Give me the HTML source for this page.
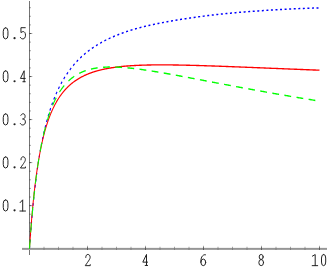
<!DOCTYPE html>
<html><head><meta charset="utf-8"><title>plot</title>
<style>
html,body{margin:0;padding:0;background:#fff;}
body{width:328px;height:273px;overflow:hidden;}
svg{display:block}
</style></head><body>
<svg width="328" height="273" viewBox="0 0 328 273">
<rect width="328" height="273" fill="#fff"/>
<rect x="29" y="1" width="1" height="254" fill="#747474"/>
<rect x="22" y="248" width="305" height="1" fill="#969696"/>
<rect x="22" y="249" width="305" height="1" fill="#a4a4a4"/>
<rect x="22" y="247" width="305" height="1" fill="#f2f2f2"/>
<rect x="29" y="239.54" width="1" height="1" fill="#5a5a5a"/>
<rect x="30" y="239.54" width="1" height="1" fill="#a8a8a8"/>
<rect x="29" y="230.94" width="1" height="1" fill="#5a5a5a"/>
<rect x="30" y="230.94" width="1" height="1" fill="#a8a8a8"/>
<rect x="29" y="222.33" width="1" height="1" fill="#5a5a5a"/>
<rect x="30" y="222.33" width="1" height="1" fill="#a8a8a8"/>
<rect x="29" y="213.73" width="1" height="1" fill="#5a5a5a"/>
<rect x="30" y="213.73" width="1" height="1" fill="#a8a8a8"/>
<rect x="29" y="205.12" width="1" height="1" fill="#4a4a4a"/>
<rect x="30" y="205.12" width="1" height="1" fill="#555"/>
<rect x="31" y="205.12" width="1" height="1" fill="#9a9a9a"/>
<rect x="32" y="205.12" width="1" height="1" fill="#e4e4e4"/>
<rect x="29" y="196.51" width="1" height="1" fill="#5a5a5a"/>
<rect x="30" y="196.51" width="1" height="1" fill="#a8a8a8"/>
<rect x="29" y="187.91" width="1" height="1" fill="#5a5a5a"/>
<rect x="30" y="187.91" width="1" height="1" fill="#a8a8a8"/>
<rect x="29" y="179.30" width="1" height="1" fill="#5a5a5a"/>
<rect x="30" y="179.30" width="1" height="1" fill="#a8a8a8"/>
<rect x="29" y="170.70" width="1" height="1" fill="#5a5a5a"/>
<rect x="30" y="170.70" width="1" height="1" fill="#a8a8a8"/>
<rect x="29" y="162.09" width="1" height="1" fill="#4a4a4a"/>
<rect x="30" y="162.09" width="1" height="1" fill="#555"/>
<rect x="31" y="162.09" width="1" height="1" fill="#9a9a9a"/>
<rect x="32" y="162.09" width="1" height="1" fill="#e4e4e4"/>
<rect x="29" y="153.48" width="1" height="1" fill="#5a5a5a"/>
<rect x="30" y="153.48" width="1" height="1" fill="#a8a8a8"/>
<rect x="29" y="144.88" width="1" height="1" fill="#5a5a5a"/>
<rect x="30" y="144.88" width="1" height="1" fill="#a8a8a8"/>
<rect x="29" y="136.27" width="1" height="1" fill="#5a5a5a"/>
<rect x="30" y="136.27" width="1" height="1" fill="#a8a8a8"/>
<rect x="29" y="127.67" width="1" height="1" fill="#5a5a5a"/>
<rect x="30" y="127.67" width="1" height="1" fill="#a8a8a8"/>
<rect x="29" y="119.06" width="1" height="1" fill="#4a4a4a"/>
<rect x="30" y="119.06" width="1" height="1" fill="#555"/>
<rect x="31" y="119.06" width="1" height="1" fill="#9a9a9a"/>
<rect x="32" y="119.06" width="1" height="1" fill="#e4e4e4"/>
<rect x="29" y="110.45" width="1" height="1" fill="#5a5a5a"/>
<rect x="30" y="110.45" width="1" height="1" fill="#a8a8a8"/>
<rect x="29" y="101.85" width="1" height="1" fill="#5a5a5a"/>
<rect x="30" y="101.85" width="1" height="1" fill="#a8a8a8"/>
<rect x="29" y="93.24" width="1" height="1" fill="#5a5a5a"/>
<rect x="30" y="93.24" width="1" height="1" fill="#a8a8a8"/>
<rect x="29" y="84.64" width="1" height="1" fill="#5a5a5a"/>
<rect x="30" y="84.64" width="1" height="1" fill="#a8a8a8"/>
<rect x="29" y="76.03" width="1" height="1" fill="#4a4a4a"/>
<rect x="30" y="76.03" width="1" height="1" fill="#555"/>
<rect x="31" y="76.03" width="1" height="1" fill="#9a9a9a"/>
<rect x="32" y="76.03" width="1" height="1" fill="#e4e4e4"/>
<rect x="29" y="67.42" width="1" height="1" fill="#5a5a5a"/>
<rect x="30" y="67.42" width="1" height="1" fill="#a8a8a8"/>
<rect x="29" y="58.82" width="1" height="1" fill="#5a5a5a"/>
<rect x="30" y="58.82" width="1" height="1" fill="#a8a8a8"/>
<rect x="29" y="50.21" width="1" height="1" fill="#5a5a5a"/>
<rect x="30" y="50.21" width="1" height="1" fill="#a8a8a8"/>
<rect x="29" y="41.61" width="1" height="1" fill="#5a5a5a"/>
<rect x="30" y="41.61" width="1" height="1" fill="#a8a8a8"/>
<rect x="29" y="33.00" width="1" height="1" fill="#4a4a4a"/>
<rect x="30" y="33.00" width="1" height="1" fill="#555"/>
<rect x="31" y="33.00" width="1" height="1" fill="#9a9a9a"/>
<rect x="32" y="33.00" width="1" height="1" fill="#e4e4e4"/>
<rect x="29" y="24.39" width="1" height="1" fill="#5a5a5a"/>
<rect x="30" y="24.39" width="1" height="1" fill="#a8a8a8"/>
<rect x="29" y="15.79" width="1" height="1" fill="#5a5a5a"/>
<rect x="30" y="15.79" width="1" height="1" fill="#a8a8a8"/>
<rect x="29" y="7.18" width="1" height="1" fill="#5a5a5a"/>
<rect x="30" y="7.18" width="1" height="1" fill="#a8a8a8"/>
<rect x="43.50" y="248" width="1" height="2" fill="#808080"/>
<rect x="43.50" y="247" width="1" height="1" fill="#a0a0a0"/>
<rect x="43.50" y="246" width="1" height="1" fill="#e8e8e8"/>
<rect x="58.00" y="248" width="1" height="2" fill="#808080"/>
<rect x="58.00" y="247" width="1" height="1" fill="#a0a0a0"/>
<rect x="58.00" y="246" width="1" height="1" fill="#e8e8e8"/>
<rect x="72.50" y="248" width="1" height="2" fill="#808080"/>
<rect x="72.50" y="247" width="1" height="1" fill="#a0a0a0"/>
<rect x="72.50" y="246" width="1" height="1" fill="#e8e8e8"/>
<rect x="87.00" y="248" width="1" height="2" fill="#5c5c5c"/>
<rect x="87.00" y="247" width="1" height="1" fill="#6e6e6e"/>
<rect x="87.00" y="246" width="1" height="1" fill="#a6a6a6"/>
<rect x="87.00" y="245" width="1" height="1" fill="#ececec"/>
<rect x="101.50" y="248" width="1" height="2" fill="#808080"/>
<rect x="101.50" y="247" width="1" height="1" fill="#a0a0a0"/>
<rect x="101.50" y="246" width="1" height="1" fill="#e8e8e8"/>
<rect x="116.00" y="248" width="1" height="2" fill="#808080"/>
<rect x="116.00" y="247" width="1" height="1" fill="#a0a0a0"/>
<rect x="116.00" y="246" width="1" height="1" fill="#e8e8e8"/>
<rect x="130.50" y="248" width="1" height="2" fill="#808080"/>
<rect x="130.50" y="247" width="1" height="1" fill="#a0a0a0"/>
<rect x="130.50" y="246" width="1" height="1" fill="#e8e8e8"/>
<rect x="145.00" y="248" width="1" height="2" fill="#5c5c5c"/>
<rect x="145.00" y="247" width="1" height="1" fill="#6e6e6e"/>
<rect x="145.00" y="246" width="1" height="1" fill="#a6a6a6"/>
<rect x="145.00" y="245" width="1" height="1" fill="#ececec"/>
<rect x="159.50" y="248" width="1" height="2" fill="#808080"/>
<rect x="159.50" y="247" width="1" height="1" fill="#a0a0a0"/>
<rect x="159.50" y="246" width="1" height="1" fill="#e8e8e8"/>
<rect x="174.00" y="248" width="1" height="2" fill="#808080"/>
<rect x="174.00" y="247" width="1" height="1" fill="#a0a0a0"/>
<rect x="174.00" y="246" width="1" height="1" fill="#e8e8e8"/>
<rect x="188.50" y="248" width="1" height="2" fill="#808080"/>
<rect x="188.50" y="247" width="1" height="1" fill="#a0a0a0"/>
<rect x="188.50" y="246" width="1" height="1" fill="#e8e8e8"/>
<rect x="203.00" y="248" width="1" height="2" fill="#5c5c5c"/>
<rect x="203.00" y="247" width="1" height="1" fill="#6e6e6e"/>
<rect x="203.00" y="246" width="1" height="1" fill="#a6a6a6"/>
<rect x="203.00" y="245" width="1" height="1" fill="#ececec"/>
<rect x="217.50" y="248" width="1" height="2" fill="#808080"/>
<rect x="217.50" y="247" width="1" height="1" fill="#a0a0a0"/>
<rect x="217.50" y="246" width="1" height="1" fill="#e8e8e8"/>
<rect x="232.00" y="248" width="1" height="2" fill="#808080"/>
<rect x="232.00" y="247" width="1" height="1" fill="#a0a0a0"/>
<rect x="232.00" y="246" width="1" height="1" fill="#e8e8e8"/>
<rect x="246.50" y="248" width="1" height="2" fill="#808080"/>
<rect x="246.50" y="247" width="1" height="1" fill="#a0a0a0"/>
<rect x="246.50" y="246" width="1" height="1" fill="#e8e8e8"/>
<rect x="261.00" y="248" width="1" height="2" fill="#5c5c5c"/>
<rect x="261.00" y="247" width="1" height="1" fill="#6e6e6e"/>
<rect x="261.00" y="246" width="1" height="1" fill="#a6a6a6"/>
<rect x="261.00" y="245" width="1" height="1" fill="#ececec"/>
<rect x="275.50" y="248" width="1" height="2" fill="#808080"/>
<rect x="275.50" y="247" width="1" height="1" fill="#a0a0a0"/>
<rect x="275.50" y="246" width="1" height="1" fill="#e8e8e8"/>
<rect x="290.00" y="248" width="1" height="2" fill="#808080"/>
<rect x="290.00" y="247" width="1" height="1" fill="#a0a0a0"/>
<rect x="290.00" y="246" width="1" height="1" fill="#e8e8e8"/>
<rect x="304.50" y="248" width="1" height="2" fill="#808080"/>
<rect x="304.50" y="247" width="1" height="1" fill="#a0a0a0"/>
<rect x="304.50" y="246" width="1" height="1" fill="#e8e8e8"/>
<rect x="319.00" y="248" width="1" height="2" fill="#5c5c5c"/>
<rect x="319.00" y="247" width="1" height="1" fill="#6e6e6e"/>
<rect x="319.00" y="246" width="1" height="1" fill="#a6a6a6"/>
<rect x="319.00" y="245" width="1" height="1" fill="#ececec"/>
<g transform="scale(1,1.345)" fill="none" stroke-linejoin="round">
<path d="M29.50,184.87 L29.50,184.87 L29.50,184.86 L29.50,184.84 L29.50,184.82 L29.51,184.79 L29.51,184.74 L29.52,184.69 L29.52,184.63 L29.53,184.56 L29.54,184.48 L29.54,184.39 L29.55,184.29 L29.56,184.18 L29.57,184.06 L29.59,183.93 L29.60,183.78 L29.61,183.63 L29.63,183.47 L29.65,183.29 L29.66,183.10 L29.68,182.91 L29.70,182.70 L29.72,182.48 L29.74,182.24 L29.77,182.00 L29.79,181.75 L29.82,181.48 L29.84,181.20 L29.87,180.92 L29.90,180.62 L29.93,180.31 L29.96,179.98 L29.99,179.65 L30.02,179.31 L30.06,178.95 L30.09,178.59 L30.13,178.21 L30.17,177.82 L30.21,177.42 L30.25,177.01 L30.29,176.59 L30.33,176.17 L30.38,175.72 L30.42,175.27 L30.47,174.81 L30.52,174.34 L30.57,173.86 L30.62,173.37 L30.67,172.87 L30.73,172.36 L30.78,171.84 L30.84,171.32 L30.89,170.78 L30.95,170.23 L31.01,169.68 L31.07,169.11 L31.13,168.54 L31.20,167.96 L31.26,167.37 L31.33,166.78 L31.40,166.17 L31.47,165.56 L31.54,164.94 L31.61,164.31 L31.68,163.68 L31.76,163.04 L31.83,162.39 L31.91,161.74 L31.99,161.08 L32.07,160.41 L32.15,159.74 L32.23,159.06 L32.32,158.37 L32.40,157.68 L32.49,156.99 L32.58,156.29 L32.67,155.58 L32.76,154.87 L32.85,154.16 L32.95,153.44 L33.04,152.71 L33.14,151.98 L33.24,151.25 L33.34,150.52 L33.44,149.78 L33.54,149.03 L33.64,148.29 L33.75,147.54 L33.86,146.79 L33.96,146.03 L34.07,145.28 L34.19,144.52 L34.30,143.76 L34.41,142.99 L34.53,142.23 L34.65,141.46 L34.76,140.69 L34.88,139.92 L35.01,139.15 L35.13,138.38 L35.25,137.60 L35.38,136.83 L35.51,136.05 L35.64,135.28 L35.77,134.50 L35.90,133.72 L36.03,132.95 L36.17,132.17 L36.30,131.39 L36.44,130.62 L36.58,129.84 L36.72,129.07 L36.87,128.29 L37.01,127.52 L37.16,126.74 L37.30,125.97 L37.45,125.20 L37.60,124.43 L37.75,123.66 L37.91,122.90 L38.06,122.13 L38.22,121.37 L38.38,120.60 L38.54,119.84 L38.70,119.08 L38.86,118.33 L39.02,117.57 L39.19,116.82 L39.36,116.07 L39.53,115.32 L39.70,114.57 L39.87,113.83 L40.04,113.09 L40.22,112.35 L40.39,111.61 L40.57,110.88 L40.75,110.15 L40.93,109.42 L41.12,108.70 L41.30,107.98 L41.49,107.26 L41.68,106.54 L41.87,105.83 L42.06,105.12 L42.25,104.41 L42.44,103.71 L42.64,103.01 L42.84,102.31 L43.04,101.62 L43.24,100.93 L43.44,100.24 L43.64,99.56 L43.85,98.88 L44.05,98.20 L44.26,97.53 L44.47,96.86 L44.69,96.19 L44.90,95.53 L45.11,94.87 L45.33,94.21 L45.55,93.56 L45.77,92.91 L45.99,92.27 L46.22,91.63 L46.44,90.99 L46.67,90.36 L46.90,89.73 L47.13,89.11 L47.36,88.48 L47.59,87.87 L47.83,87.25 L48.06,86.64 L48.30,86.04 L48.54,85.43 L48.78,84.83 L49.03,84.24 L49.27,83.65 L49.52,83.06 L49.76,82.48 L50.01,81.90 L50.27,81.32 L50.52,80.75 L50.77,80.18 L51.03,79.61 L51.29,79.05 L51.55,78.49 L51.81,77.94 L52.07,77.39 L52.34,76.84 L52.61,76.30 L52.87,75.76 L53.14,75.23 L53.42,74.70 L53.69,74.17 L53.96,73.65 L54.24,73.13 L54.52,72.61 L54.80,72.10 L55.08,71.59 L55.37,71.08 L55.65,70.58 L55.94,70.08 L56.23,69.59 L56.52,69.09 L56.81,68.61 L57.10,68.12 L57.40,67.64 L57.70,67.16 L58.00,66.69 L58.30,66.22 L58.60,65.75 L58.90,65.29 L59.21,64.83 L59.52,64.37 L59.83,63.92 L60.14,63.47 L60.45,63.02 L60.77,62.58 L61.08,62.14 L61.40,61.70 L61.72,61.27 L62.04,60.84 L62.37,60.41 L62.69,59.99 L63.02,59.57 L63.35,59.15 L63.68,58.73 L64.01,58.32 L64.34,57.91 L64.68,57.51 L65.01,57.11 L65.35,56.71 L65.69,56.31 L66.04,55.92 L66.38,55.53 L66.73,55.14 L67.08,54.76 L67.43,54.38 L67.78,54.00 L68.13,53.62 L68.49,53.25 L68.84,52.88 L69.20,52.51 L69.56,52.15 L69.92,51.79 L70.29,51.43 L70.65,51.07 L71.02,50.72 L71.39,50.37 L71.76,50.02 L72.13,49.68 L72.51,49.33 L72.88,48.99 L73.26,48.66 L73.64,48.32 L74.02,47.99 L74.41,47.66 L74.79,47.33 L75.18,47.01 L75.57,46.69 L75.96,46.37 L76.35,46.05 L76.75,45.74 L77.14,45.42 L77.54,45.11 L77.94,44.81 L78.34,44.50 L78.74,44.20 L79.15,43.90 L79.56,43.60 L79.97,43.30 L80.38,43.01 L80.79,42.72 L81.20,42.43 L81.62,42.14 L82.04,41.86 L82.46,41.57 L82.88,41.29 L83.30,41.01 L83.73,40.74 L84.15,40.46 L84.58,40.19 L85.01,39.92 L85.45,39.65 L85.88,39.39 L86.32,39.12 L86.75,38.86 L87.19,38.60 L87.64,38.34 L88.08,38.09 L88.52,37.83 L88.97,37.58 L89.42,37.33 L89.87,37.08 L90.32,36.84 L90.78,36.59 L91.23,36.35 L91.69,36.11 L92.15,35.87 L92.61,35.63 L93.08,35.39 L93.54,35.16 L94.01,34.93 L94.48,34.70 L94.95,34.47 L95.43,34.24 L95.90,34.02 L96.38,33.79 L96.86,33.57 L97.34,33.35 L97.82,33.13 L98.30,32.92 L98.79,32.70 L99.28,32.49 L99.77,32.28 L100.26,32.07 L100.75,31.86 L101.25,31.65 L101.74,31.44 L102.24,31.24 L102.74,31.04 L103.25,30.84 L103.75,30.64 L104.26,30.44 L104.77,30.24 L105.28,30.05 L105.79,29.85 L106.30,29.66 L106.82,29.47 L107.34,29.28 L107.86,29.09 L108.38,28.91 L108.90,28.72 L109.43,28.54 L109.96,28.35 L110.49,28.17 L111.02,27.99 L111.55,27.81 L112.09,27.64 L112.62,27.46 L113.16,27.29 L113.70,27.11 L114.24,26.94 L114.79,26.77 L115.34,26.60 L115.88,26.43 L116.43,26.27 L116.99,26.10 L117.54,25.94 L118.10,25.78 L118.65,25.61 L119.21,25.45 L119.78,25.29 L120.34,25.14 L120.90,24.98 L121.47,24.82 L122.04,24.67 L122.61,24.51 L123.19,24.36 L123.76,24.21 L124.34,24.06 L124.92,23.91 L125.50,23.77 L126.08,23.62 L126.66,23.47 L127.25,23.33 L127.84,23.19 L128.43,23.04 L129.02,22.90 L129.62,22.76 L130.21,22.62 L130.81,22.49 L131.41,22.35 L132.01,22.21 L132.62,22.08 L133.22,21.95 L133.83,21.81 L134.44,21.68 L135.05,21.55 L135.67,21.42 L136.28,21.29 L136.90,21.16 L137.52,21.04 L138.14,20.91 L138.76,20.79 L139.39,20.66 L140.02,20.54 L140.65,20.42 L141.28,20.30 L141.91,20.18 L142.55,20.06 L143.18,19.94 L143.82,19.82 L144.46,19.70 L145.11,19.59 L145.75,19.47 L146.40,19.36 L147.05,19.25 L147.70,19.13 L148.35,19.02 L149.00,18.91 L149.66,18.80 L150.32,18.69 L150.98,18.58 L151.64,18.47 L152.31,18.36 L152.97,18.26 L153.64,18.15 L154.31,18.04 L154.98,17.94 L155.66,17.84 L156.34,17.73 L157.01,17.63 L157.69,17.53 L158.38,17.42 L159.06,17.32 L159.75,17.22 L160.43,17.12 L161.12,17.02 L161.82,16.92 L162.51,16.82 L163.21,16.72 L163.90,16.63 L164.60,16.53 L165.31,16.43 L166.01,16.34 L166.72,16.24 L167.42,16.14 L168.13,16.05 L168.85,15.95 L169.56,15.86 L170.28,15.76 L170.99,15.67 L171.71,15.58 L172.44,15.48 L173.16,15.39 L173.89,15.30 L174.61,15.21 L175.34,15.12 L176.08,15.02 L176.81,14.93 L177.55,14.84 L178.28,14.75 L179.02,14.66 L179.76,14.57 L180.51,14.48 L181.25,14.39 L182.00,14.31 L182.75,14.22 L183.50,14.13 L184.26,14.04 L185.01,13.96 L185.77,13.87 L186.53,13.78 L187.29,13.70 L188.06,13.61 L188.82,13.52 L189.59,13.44 L190.36,13.35 L191.13,13.27 L191.91,13.19 L192.68,13.10 L193.46,13.02 L194.24,12.94 L195.02,12.85 L195.81,12.77 L196.59,12.69 L197.38,12.61 L198.17,12.53 L198.97,12.45 L199.76,12.37 L200.56,12.29 L201.35,12.21 L202.15,12.13 L202.96,12.05 L203.76,11.98 L204.57,11.90 L205.38,11.82 L206.19,11.75 L207.00,11.67 L207.81,11.60 L208.63,11.52 L209.45,11.45 L210.27,11.37 L211.09,11.30 L211.92,11.23 L212.74,11.16 L213.57,11.09 L214.40,11.02 L215.24,10.95 L216.07,10.88 L216.91,10.81 L217.75,10.74 L218.59,10.67 L219.43,10.60 L220.28,10.54 L221.12,10.47 L221.97,10.40 L222.82,10.34 L223.68,10.27 L224.53,10.21 L225.39,10.14 L226.25,10.08 L227.11,10.02 L227.98,9.96 L228.84,9.89 L229.71,9.83 L230.58,9.77 L231.45,9.71 L232.32,9.65 L233.20,9.59 L234.08,9.53 L234.96,9.47 L235.84,9.42 L236.72,9.36 L237.61,9.30 L238.50,9.24 L239.39,9.19 L240.28,9.13 L241.18,9.08 L242.07,9.02 L242.97,8.97 L243.87,8.91 L244.78,8.86 L245.68,8.81 L246.59,8.75 L247.50,8.70 L248.41,8.65 L249.32,8.60 L250.24,8.54 L251.15,8.49 L252.07,8.44 L252.99,8.39 L253.92,8.34 L254.84,8.29 L255.77,8.24 L256.70,8.19 L257.63,8.14 L258.57,8.10 L259.50,8.05 L260.44,8.00 L261.38,7.95 L262.32,7.91 L263.27,7.86 L264.21,7.81 L265.16,7.77 L266.11,7.72 L267.07,7.68 L268.02,7.63 L268.98,7.59 L269.94,7.54 L270.90,7.50 L271.86,7.46 L272.82,7.41 L273.79,7.37 L274.76,7.33 L275.73,7.29 L276.71,7.24 L277.68,7.20 L278.66,7.16 L279.64,7.12 L280.62,7.08 L281.61,7.04 L282.59,7.00 L283.58,6.96 L284.57,6.92 L285.56,6.89 L286.56,6.85 L287.55,6.81 L288.55,6.77 L289.55,6.74 L290.56,6.70 L291.56,6.66 L292.57,6.63 L293.58,6.59 L294.59,6.56 L295.60,6.52 L296.62,6.49 L297.64,6.45 L298.66,6.42 L299.68,6.39 L300.70,6.36 L301.73,6.32 L302.76,6.29 L303.79,6.26 L304.82,6.23 L305.86,6.20 L306.89,6.17 L307.93,6.14 L308.97,6.12 L310.02,6.09 L311.06,6.06 L312.11,6.04 L313.16,6.01 L314.21,5.99 L315.26,5.96 L316.32,5.94 L317.38,5.92 L318.44,5.89 L319.50,5.87" stroke="#0000ff" stroke-width="1.1" stroke-dasharray="2.0 2.56" stroke-dashoffset="-0.15"/>
<path d="M29.50,184.87 L29.50,184.87 L29.50,184.86 L29.50,184.84 L29.50,184.81 L29.51,184.78 L29.51,184.73 L29.52,184.68 L29.52,184.62 L29.53,184.54 L29.54,184.45 L29.54,184.36 L29.55,184.25 L29.56,184.13 L29.57,184.00 L29.59,183.86 L29.60,183.71 L29.61,183.54 L29.63,183.37 L29.65,183.18 L29.66,182.98 L29.68,182.77 L29.70,182.54 L29.72,182.31 L29.74,182.06 L29.77,181.80 L29.79,181.53 L29.82,181.25 L29.84,180.95 L29.87,180.65 L29.90,180.33 L29.93,180.00 L29.96,179.66 L29.99,179.30 L30.02,178.94 L30.06,178.56 L30.09,178.17 L30.13,177.77 L30.17,177.36 L30.21,176.94 L30.25,176.51 L30.29,176.07 L30.33,175.61 L30.38,175.15 L30.42,174.68 L30.47,174.19 L30.52,173.70 L30.57,173.19 L30.62,172.68 L30.67,172.15 L30.73,171.62 L30.78,171.07 L30.84,170.52 L30.89,169.96 L30.95,169.39 L31.01,168.81 L31.07,168.23 L31.13,167.63 L31.20,167.03 L31.26,166.42 L31.33,165.80 L31.40,165.17 L31.47,164.54 L31.54,163.90 L31.61,163.25 L31.68,162.60 L31.76,161.94 L31.83,161.28 L31.91,160.60 L31.99,159.93 L32.07,159.24 L32.15,158.55 L32.23,157.86 L32.32,157.16 L32.40,156.46 L32.49,155.75 L32.58,155.04 L32.67,154.32 L32.76,153.61 L32.85,152.88 L32.95,152.16 L33.04,151.43 L33.14,150.69 L33.24,149.96 L33.34,149.22 L33.44,148.48 L33.54,147.73 L33.64,146.99 L33.75,146.24 L33.86,145.49 L33.96,144.74 L34.07,143.99 L34.19,143.24 L34.30,142.48 L34.41,141.73 L34.53,140.97 L34.65,140.22 L34.76,139.46 L34.88,138.70 L35.01,137.95 L35.13,137.19 L35.25,136.44 L35.38,135.68 L35.51,134.93 L35.64,134.17 L35.77,133.42 L35.90,132.67 L36.03,131.92 L36.17,131.17 L36.30,130.42 L36.44,129.67 L36.58,128.93 L36.72,128.19 L36.87,127.45 L37.01,126.71 L37.16,125.97 L37.30,125.24 L37.45,124.50 L37.60,123.77 L37.75,123.05 L37.91,122.32 L38.06,121.60 L38.22,120.88 L38.38,120.17 L38.54,119.46 L38.70,118.75 L38.86,118.04 L39.02,117.34 L39.19,116.64 L39.36,115.94 L39.53,115.25 L39.70,114.56 L39.87,113.87 L40.04,113.19 L40.22,112.51 L40.39,111.84 L40.57,111.17 L40.75,110.50 L40.93,109.84 L41.12,109.18 L41.30,108.53 L41.49,107.87 L41.68,107.23 L41.87,106.59 L42.06,105.95 L42.25,105.31 L42.44,104.68 L42.64,104.06 L42.84,103.44 L43.04,102.82 L43.24,102.21 L43.44,101.60 L43.64,101.00 L43.85,100.40 L44.05,99.80 L44.26,99.21 L44.47,98.62 L44.69,98.04 L44.90,97.46 L45.11,96.89 L45.33,96.32 L45.55,95.76 L45.77,95.20 L45.99,94.65 L46.22,94.10 L46.44,93.55 L46.67,93.01 L46.90,92.47 L47.13,91.94 L47.36,91.41 L47.59,90.89 L47.83,90.37 L48.06,89.85 L48.30,89.34 L48.54,88.84 L48.78,88.34 L49.03,87.84 L49.27,87.35 L49.52,86.86 L49.76,86.38 L50.01,85.90 L50.27,85.42 L50.52,84.95 L50.77,84.49 L51.03,84.03 L51.29,83.57 L51.55,83.12 L51.81,82.67 L52.07,82.22 L52.34,81.78 L52.61,81.35 L52.87,80.91 L53.14,80.49 L53.42,80.06 L53.69,79.64 L53.96,79.23 L54.24,78.82 L54.52,78.41 L54.80,78.01 L55.08,77.61 L55.37,77.21 L55.65,76.82 L55.94,76.44 L56.23,76.05 L56.52,75.67 L56.81,75.30 L57.10,74.93 L57.40,74.56 L57.70,74.20 L58.00,73.84 L58.30,73.48 L58.60,73.13 L58.90,72.78 L59.21,72.43 L59.52,72.09 L59.83,71.76 L60.14,71.42 L60.45,71.09 L60.77,70.76 L61.08,70.44 L61.40,70.12 L61.72,69.80 L62.04,69.49 L62.37,69.18 L62.69,68.88 L63.02,68.57 L63.35,68.27 L63.68,67.98 L64.01,67.69 L64.34,67.40 L64.68,67.11 L65.01,66.83 L65.35,66.55 L65.69,66.27 L66.04,66.00 L66.38,65.73 L66.73,65.46 L67.08,65.20 L67.43,64.94 L67.78,64.68 L68.13,64.42 L68.49,64.17 L68.84,63.92 L69.20,63.68 L69.56,63.43 L69.92,63.19 L70.29,62.95 L70.65,62.72 L71.02,62.49 L71.39,62.26 L71.76,62.03 L72.13,61.81 L72.51,61.59 L72.88,61.37 L73.26,61.15 L73.64,60.94 L74.02,60.73 L74.41,60.52 L74.79,60.32 L75.18,60.12 L75.57,59.91 L75.96,59.72 L76.35,59.52 L76.75,59.33 L77.14,59.14 L77.54,58.95 L77.94,58.77 L78.34,58.58 L78.74,58.40 L79.15,58.22 L79.56,58.05 L79.97,57.87 L80.38,57.70 L80.79,57.53 L81.20,57.36 L81.62,57.20 L82.04,57.04 L82.46,56.88 L82.88,56.72 L83.30,56.56 L83.73,56.41 L84.15,56.25 L84.58,56.10 L85.01,55.95 L85.45,55.81 L85.88,55.66 L86.32,55.52 L86.75,55.38 L87.19,55.24 L87.64,55.11 L88.08,54.97 L88.52,54.84 L88.97,54.71 L89.42,54.58 L89.87,54.45 L90.32,54.33 L90.78,54.20 L91.23,54.08 L91.69,53.96 L92.15,53.84 L92.61,53.72 L93.08,53.61 L93.54,53.50 L94.01,53.38 L94.48,53.27 L94.95,53.17 L95.43,53.06 L95.90,52.95 L96.38,52.85 L96.86,52.75 L97.34,52.65 L97.82,52.55 L98.30,52.45 L98.79,52.36 L99.28,52.26 L99.77,52.17 L100.26,52.08 L100.75,51.99 L101.25,51.90 L101.74,51.81 L102.24,51.72 L102.74,51.64 L103.25,51.56 L103.75,51.48 L104.26,51.40 L104.77,51.32 L105.28,51.24 L105.79,51.16 L106.30,51.09 L106.82,51.01 L107.34,50.94 L107.86,50.87 L108.38,50.80 L108.90,50.73 L109.43,50.66 L109.96,50.60 L110.49,50.53 L111.02,50.47 L111.55,50.40 L112.09,50.34 L112.62,50.28 L113.16,50.22 L113.70,50.16 L114.24,50.11 L114.79,50.05 L115.34,50.00 L115.88,49.94 L116.43,49.89 L116.99,49.84 L117.54,49.79 L118.10,49.74 L118.65,49.69 L119.21,49.64 L119.78,49.59 L120.34,49.55 L120.90,49.50 L121.47,49.46 L122.04,49.42 L122.61,49.37 L123.19,49.33 L123.76,49.29 L124.34,49.25 L124.92,49.21 L125.50,49.18 L126.08,49.14 L126.66,49.10 L127.25,49.07 L127.84,49.04 L128.43,49.00 L129.02,48.97 L129.62,48.94 L130.21,48.91 L130.81,48.88 L131.41,48.85 L132.01,48.82 L132.62,48.79 L133.22,48.77 L133.83,48.74 L134.44,48.72 L135.05,48.69 L135.67,48.67 L136.28,48.64 L136.90,48.62 L137.52,48.60 L138.14,48.58 L138.76,48.56 L139.39,48.54 L140.02,48.52 L140.65,48.50 L141.28,48.49 L141.91,48.47 L142.55,48.45 L143.18,48.44 L143.82,48.42 L144.46,48.41 L145.11,48.40 L145.75,48.38 L146.40,48.37 L147.05,48.36 L147.70,48.35 L148.35,48.34 L149.00,48.33 L149.66,48.32 L150.32,48.31 L150.98,48.30 L151.64,48.29 L152.31,48.29 L152.97,48.28 L153.64,48.27 L154.31,48.27 L154.98,48.26 L155.66,48.26 L156.34,48.25 L157.01,48.25 L157.69,48.25 L158.38,48.25 L159.06,48.24 L159.75,48.24 L160.43,48.24 L161.12,48.24 L161.82,48.24 L162.51,48.24 L163.21,48.24 L163.90,48.24 L164.60,48.25 L165.31,48.25 L166.01,48.25 L166.72,48.25 L167.42,48.26 L168.13,48.26 L168.85,48.27 L169.56,48.27 L170.28,48.28 L170.99,48.28 L171.71,48.29 L172.44,48.29 L173.16,48.30 L173.89,48.31 L174.61,48.31 L175.34,48.32 L176.08,48.33 L176.81,48.34 L177.55,48.35 L178.28,48.36 L179.02,48.37 L179.76,48.38 L180.51,48.39 L181.25,48.40 L182.00,48.41 L182.75,48.42 L183.50,48.43 L184.26,48.45 L185.01,48.46 L185.77,48.47 L186.53,48.48 L187.29,48.50 L188.06,48.51 L188.82,48.52 L189.59,48.54 L190.36,48.55 L191.13,48.57 L191.91,48.58 L192.68,48.60 L193.46,48.61 L194.24,48.63 L195.02,48.65 L195.81,48.66 L196.59,48.68 L197.38,48.70 L198.17,48.71 L198.97,48.73 L199.76,48.75 L200.56,48.77 L201.35,48.78 L202.15,48.80 L202.96,48.82 L203.76,48.84 L204.57,48.86 L205.38,48.88 L206.19,48.90 L207.00,48.92 L207.81,48.94 L208.63,48.96 L209.45,48.98 L210.27,49.00 L211.09,49.02 L211.92,49.04 L212.74,49.06 L213.57,49.08 L214.40,49.10 L215.24,49.13 L216.07,49.15 L216.91,49.17 L217.75,49.19 L218.59,49.21 L219.43,49.24 L220.28,49.26 L221.12,49.28 L221.97,49.31 L222.82,49.33 L223.68,49.35 L224.53,49.38 L225.39,49.40 L226.25,49.42 L227.11,49.45 L227.98,49.47 L228.84,49.50 L229.71,49.52 L230.58,49.55 L231.45,49.57 L232.32,49.60 L233.20,49.62 L234.08,49.65 L234.96,49.67 L235.84,49.70 L236.72,49.72 L237.61,49.75 L238.50,49.77 L239.39,49.80 L240.28,49.83 L241.18,49.85 L242.07,49.88 L242.97,49.91 L243.87,49.93 L244.78,49.96 L245.68,49.99 L246.59,50.01 L247.50,50.04 L248.41,50.07 L249.32,50.09 L250.24,50.12 L251.15,50.15 L252.07,50.18 L252.99,50.20 L253.92,50.23 L254.84,50.26 L255.77,50.29 L256.70,50.32 L257.63,50.34 L258.57,50.37 L259.50,50.40 L260.44,50.43 L261.38,50.46 L262.32,50.49 L263.27,50.51 L264.21,50.54 L265.16,50.57 L266.11,50.60 L267.07,50.63 L268.02,50.66 L268.98,50.69 L269.94,50.72 L270.90,50.75 L271.86,50.78 L272.82,50.80 L273.79,50.83 L274.76,50.86 L275.73,50.89 L276.71,50.92 L277.68,50.95 L278.66,50.98 L279.64,51.01 L280.62,51.04 L281.61,51.07 L282.59,51.10 L283.58,51.13 L284.57,51.16 L285.56,51.19 L286.56,51.22 L287.55,51.25 L288.55,51.28 L289.55,51.31 L290.56,51.34 L291.56,51.37 L292.57,51.40 L293.58,51.43 L294.59,51.46 L295.60,51.49 L296.62,51.52 L297.64,51.55 L298.66,51.58 L299.68,51.61 L300.70,51.64 L301.73,51.67 L302.76,51.70 L303.79,51.73 L304.82,51.76 L305.86,51.80 L306.89,51.83 L307.93,51.86 L308.97,51.89 L310.02,51.92 L311.06,51.95 L312.11,51.98 L313.16,52.01 L314.21,52.04 L315.26,52.07 L316.32,52.10 L317.38,52.13 L318.44,52.16 L319.50,52.19" stroke="#ff0000" stroke-width="1.0"/>
<path d="M29.50,184.87 L29.50,184.87 L29.50,184.86 L29.50,184.84 L29.50,184.82 L29.51,184.79 L29.51,184.74 L29.52,184.69 L29.52,184.63 L29.53,184.56 L29.54,184.48 L29.54,184.39 L29.55,184.29 L29.56,184.18 L29.57,184.06 L29.59,183.92 L29.60,183.78 L29.61,183.63 L29.63,183.46 L29.65,183.28 L29.66,183.10 L29.68,182.90 L29.70,182.69 L29.72,182.46 L29.74,182.23 L29.77,181.99 L29.79,181.73 L29.82,181.46 L29.84,181.19 L29.87,180.90 L29.90,180.60 L29.93,180.28 L29.96,179.96 L29.99,179.63 L30.02,179.28 L30.06,178.92 L30.09,178.55 L30.13,178.18 L30.17,177.79 L30.21,177.39 L30.25,176.97 L30.29,176.55 L30.33,176.12 L30.38,175.68 L30.42,175.22 L30.47,174.76 L30.52,174.29 L30.57,173.80 L30.62,173.31 L30.67,172.80 L30.73,172.29 L30.78,171.77 L30.84,171.24 L30.89,170.70 L30.95,170.15 L31.01,169.59 L31.07,169.02 L31.13,168.44 L31.20,167.86 L31.26,167.27 L31.33,166.66 L31.40,166.06 L31.47,165.44 L31.54,164.81 L31.61,164.18 L31.68,163.54 L31.76,162.90 L31.83,162.24 L31.91,161.59 L31.99,160.92 L32.07,160.25 L32.15,159.57 L32.23,158.88 L32.32,158.19 L32.40,157.50 L32.49,156.80 L32.58,156.09 L32.67,155.38 L32.76,154.66 L32.85,153.94 L32.95,153.22 L33.04,152.49 L33.14,151.76 L33.24,151.02 L33.34,150.28 L33.44,149.53 L33.54,148.78 L33.64,148.03 L33.75,147.28 L33.86,146.52 L33.96,145.76 L34.07,145.00 L34.19,144.24 L34.30,143.47 L34.41,142.70 L34.53,141.93 L34.65,141.16 L34.76,140.39 L34.88,139.62 L35.01,138.84 L35.13,138.07 L35.25,137.29 L35.38,136.51 L35.51,135.74 L35.64,134.96 L35.77,134.18 L35.90,133.40 L36.03,132.63 L36.17,131.85 L36.30,131.07 L36.44,130.30 L36.58,129.52 L36.72,128.75 L36.87,127.97 L37.01,127.20 L37.16,126.43 L37.30,125.66 L37.45,124.90 L37.60,124.13 L37.75,123.37 L37.91,122.60 L38.06,121.84 L38.22,121.08 L38.38,120.33 L38.54,119.58 L38.70,118.82 L38.86,118.08 L39.02,117.33 L39.19,116.59 L39.36,115.85 L39.53,115.11 L39.70,114.38 L39.87,113.64 L40.04,112.92 L40.22,112.19 L40.39,111.47 L40.57,110.75 L40.75,110.04 L40.93,109.33 L41.12,108.62 L41.30,107.92 L41.49,107.22 L41.68,106.52 L41.87,105.83 L42.06,105.14 L42.25,104.46 L42.44,103.78 L42.64,103.10 L42.84,102.43 L43.04,101.76 L43.24,101.10 L43.44,100.44 L43.64,99.79 L43.85,99.14 L44.05,98.49 L44.26,97.85 L44.47,97.21 L44.69,96.58 L44.90,95.95 L45.11,95.33 L45.33,94.71 L45.55,94.10 L45.77,93.49 L45.99,92.88 L46.22,92.28 L46.44,91.69 L46.67,91.10 L46.90,90.51 L47.13,89.93 L47.36,89.36 L47.59,88.79 L47.83,88.22 L48.06,87.66 L48.30,87.10 L48.54,86.55 L48.78,86.00 L49.03,85.46 L49.27,84.92 L49.52,84.39 L49.76,83.86 L50.01,83.34 L50.27,82.82 L50.52,82.31 L50.77,81.80 L51.03,81.30 L51.29,80.80 L51.55,80.31 L51.81,79.82 L52.07,79.33 L52.34,78.85 L52.61,78.38 L52.87,77.91 L53.14,77.45 L53.42,76.99 L53.69,76.53 L53.96,76.08 L54.24,75.64 L54.52,75.20 L54.80,74.76 L55.08,74.33 L55.37,73.90 L55.65,73.48 L55.94,73.06 L56.23,72.65 L56.52,72.24 L56.81,71.84 L57.10,71.44 L57.40,71.05 L57.70,70.66 L58.00,70.27 L58.30,69.89 L58.60,69.51 L58.90,69.14 L59.21,68.77 L59.52,68.41 L59.83,68.05 L60.14,67.70 L60.45,67.35 L60.77,67.01 L61.08,66.66 L61.40,66.33 L61.72,66.00 L62.04,65.67 L62.37,65.34 L62.69,65.02 L63.02,64.71 L63.35,64.40 L63.68,64.09 L64.01,63.79 L64.34,63.49 L64.68,63.19 L65.01,62.90 L65.35,62.62 L65.69,62.33 L66.04,62.05 L66.38,61.78 L66.73,61.51 L67.08,61.24 L67.43,60.98 L67.78,60.72 L68.13,60.46 L68.49,60.21 L68.84,59.96 L69.20,59.72 L69.56,59.48 L69.92,59.24 L70.29,59.00 L70.65,58.78 L71.02,58.55 L71.39,58.33 L71.76,58.11 L72.13,57.89 L72.51,57.68 L72.88,57.47 L73.26,57.27 L73.64,57.06 L74.02,56.86 L74.41,56.67 L74.79,56.48 L75.18,56.29 L75.57,56.10 L75.96,55.92 L76.35,55.74 L76.75,55.57 L77.14,55.40 L77.54,55.23 L77.94,55.06 L78.34,54.90 L78.74,54.74 L79.15,54.58 L79.56,54.43 L79.97,54.28 L80.38,54.13 L80.79,53.98 L81.20,53.84 L81.62,53.70 L82.04,53.57 L82.46,53.43 L82.88,53.30 L83.30,53.18 L83.73,53.05 L84.15,52.93 L84.58,52.81 L85.01,52.69 L85.45,52.58 L85.88,52.47 L86.32,52.36 L86.75,52.26 L87.19,52.15 L87.64,52.05 L88.08,51.95 L88.52,51.86 L88.97,51.76 L89.42,51.67 L89.87,51.59 L90.32,51.50 L90.78,51.42 L91.23,51.34 L91.69,51.26 L92.15,51.18 L92.61,51.11 L93.08,51.04 L93.54,50.97 L94.01,50.90 L94.48,50.83 L94.95,50.77 L95.43,50.71 L95.90,50.65 L96.38,50.60 L96.86,50.54 L97.34,50.49 L97.82,50.44 L98.30,50.40 L98.79,50.35 L99.28,50.31 L99.77,50.27 L100.26,50.23 L100.75,50.19 L101.25,50.15 L101.74,50.12 L102.24,50.09 L102.74,50.06 L103.25,50.03 L103.75,50.01 L104.26,49.98 L104.77,49.96 L105.28,49.94 L105.79,49.92 L106.30,49.91 L106.82,49.89 L107.34,49.88 L107.86,49.87 L108.38,49.86 L108.90,49.85 L109.43,49.84 L109.96,49.84 L110.49,49.84 L111.02,49.83 L111.55,49.83 L112.09,49.84 L112.62,49.84 L113.16,49.85 L113.70,49.85 L114.24,49.86 L114.79,49.87 L115.34,49.88 L115.88,49.89 L116.43,49.91 L116.99,49.92 L117.54,49.94 L118.10,49.96 L118.65,49.98 L119.21,50.00 L119.78,50.02 L120.34,50.05 L120.90,50.07 L121.47,50.10 L122.04,50.13 L122.61,50.16 L123.19,50.19 L123.76,50.22 L124.34,50.26 L124.92,50.29 L125.50,50.33 L126.08,50.36 L126.66,50.40 L127.25,50.44 L127.84,50.48 L128.43,50.52 L129.02,50.57 L129.62,50.61 L130.21,50.66 L130.81,50.70 L131.41,50.75 L132.01,50.80 L132.62,50.85 L133.22,50.90 L133.83,50.95 L134.44,51.01 L135.05,51.06 L135.67,51.12 L136.28,51.17 L136.90,51.23 L137.52,51.29 L138.14,51.35 L138.76,51.41 L139.39,51.47 L140.02,51.53 L140.65,51.59 L141.28,51.66 L141.91,51.72 L142.55,51.79 L143.18,51.86 L143.82,51.92 L144.46,51.99 L145.11,52.06 L145.75,52.13 L146.40,52.20 L147.05,52.28 L147.70,52.35 L148.35,52.42 L149.00,52.50 L149.66,52.57 L150.32,52.65 L150.98,52.73 L151.64,52.80 L152.31,52.88 L152.97,52.96 L153.64,53.04 L154.31,53.12 L154.98,53.20 L155.66,53.29 L156.34,53.37 L157.01,53.45 L157.69,53.54 L158.38,53.62 L159.06,53.71 L159.75,53.80 L160.43,53.88 L161.12,53.97 L161.82,54.06 L162.51,54.15 L163.21,54.24 L163.90,54.33 L164.60,54.42 L165.31,54.51 L166.01,54.60 L166.72,54.70 L167.42,54.79 L168.13,54.88 L168.85,54.98 L169.56,55.07 L170.28,55.17 L170.99,55.26 L171.71,55.36 L172.44,55.46 L173.16,55.56 L173.89,55.65 L174.61,55.75 L175.34,55.85 L176.08,55.95 L176.81,56.05 L177.55,56.15 L178.28,56.26 L179.02,56.36 L179.76,56.46 L180.51,56.56 L181.25,56.67 L182.00,56.77 L182.75,56.87 L183.50,56.98 L184.26,57.08 L185.01,57.19 L185.77,57.29 L186.53,57.40 L187.29,57.51 L188.06,57.61 L188.82,57.72 L189.59,57.83 L190.36,57.94 L191.13,58.05 L191.91,58.16 L192.68,58.26 L193.46,58.37 L194.24,58.48 L195.02,58.60 L195.81,58.71 L196.59,58.82 L197.38,58.93 L198.17,59.04 L198.97,59.15 L199.76,59.27 L200.56,59.38 L201.35,59.49 L202.15,59.60 L202.96,59.72 L203.76,59.83 L204.57,59.95 L205.38,60.06 L206.19,60.18 L207.00,60.29 L207.81,60.41 L208.63,60.52 L209.45,60.64 L210.27,60.75 L211.09,60.87 L211.92,60.99 L212.74,61.11 L213.57,61.22 L214.40,61.34 L215.24,61.46 L216.07,61.58 L216.91,61.69 L217.75,61.81 L218.59,61.93 L219.43,62.05 L220.28,62.17 L221.12,62.29 L221.97,62.41 L222.82,62.53 L223.68,62.65 L224.53,62.77 L225.39,62.89 L226.25,63.01 L227.11,63.13 L227.98,63.25 L228.84,63.37 L229.71,63.49 L230.58,63.62 L231.45,63.74 L232.32,63.86 L233.20,63.98 L234.08,64.10 L234.96,64.22 L235.84,64.35 L236.72,64.47 L237.61,64.59 L238.50,64.72 L239.39,64.84 L240.28,64.96 L241.18,65.09 L242.07,65.21 L242.97,65.33 L243.87,65.46 L244.78,65.58 L245.68,65.70 L246.59,65.83 L247.50,65.95 L248.41,66.08 L249.32,66.20 L250.24,66.32 L251.15,66.45 L252.07,66.57 L252.99,66.70 L253.92,66.82 L254.84,66.95 L255.77,67.07 L256.70,67.20 L257.63,67.32 L258.57,67.45 L259.50,67.58 L260.44,67.70 L261.38,67.83 L262.32,67.95 L263.27,68.08 L264.21,68.20 L265.16,68.33 L266.11,68.46 L267.07,68.58 L268.02,68.71 L268.98,68.83 L269.94,68.96 L270.90,69.09 L271.86,69.21 L272.82,69.34 L273.79,69.47 L274.76,69.59 L275.73,69.72 L276.71,69.84 L277.68,69.97 L278.66,70.10 L279.64,70.22 L280.62,70.35 L281.61,70.48 L282.59,70.60 L283.58,70.73 L284.57,70.86 L285.56,70.99 L286.56,71.11 L287.55,71.24 L288.55,71.37 L289.55,71.49 L290.56,71.62 L291.56,71.75 L292.57,71.87 L293.58,72.00 L294.59,72.13 L295.60,72.26 L296.62,72.38 L297.64,72.51 L298.66,72.64 L299.68,72.76 L300.70,72.89 L301.73,73.02 L302.76,73.15 L303.79,73.27 L304.82,73.40 L305.86,73.53 L306.89,73.65 L307.93,73.78 L308.97,73.91 L310.02,74.03 L311.06,74.16 L312.11,74.29 L313.16,74.42 L314.21,74.54 L315.26,74.67 L316.32,74.80 L317.38,74.92 L318.44,75.05 L319.50,75.18" stroke="#00ff00" stroke-width="1.05" stroke-dasharray="6.8 5.38" stroke-dashoffset="0"/>
</g>
<g fill="none" stroke="#222" stroke-width="1.0" stroke-linecap="round" stroke-linejoin="round">
<g transform="translate(5.60,199.82)"><rect x="-2.35" y="0" width="4.7" height="11.2" rx="2.35" ry="3.6"/></g>
<g transform="translate(14.45,199.82)"><circle cx="0.1" cy="10.5" r="1.1" fill="#222" stroke="none"/></g>
<g transform="translate(22.70,199.82)"><path d="M-2.6,2.8 L0,0 L0,11.2 M-2.8,11.2 L2.8,11.2"/></g>
<g transform="translate(5.60,156.79)"><rect x="-2.35" y="0" width="4.7" height="11.2" rx="2.35" ry="3.6"/></g>
<g transform="translate(14.45,156.79)"><circle cx="0.1" cy="10.5" r="1.1" fill="#222" stroke="none"/></g>
<g transform="translate(22.95,156.79)"><path d="M-2.0,3.0 C-2.0,1.0 -1.1,0 0.15,0 C1.5,0 2.4,1.2 2.4,2.8 C2.4,4.5 1.2,5.8 -2.5,11.2 L2.5,11.2 L2.5,10.2"/></g>
<g transform="translate(5.60,113.76)"><rect x="-2.35" y="0" width="4.7" height="11.2" rx="2.35" ry="3.6"/></g>
<g transform="translate(14.45,113.76)"><circle cx="0.1" cy="10.5" r="1.1" fill="#222" stroke="none"/></g>
<g transform="translate(22.95,113.76)"><path d="M-2.1,1.6 C-1.4,0.4 -0.6,0 0.2,0 C1.5,0 2.15,1.1 2.15,2.6 C2.15,4.3 1.1,5.2 -0.4,5.2 C1.4,5.2 2.45,6.4 2.45,8.1 C2.45,10 1.4,11.2 -0.2,11.2 C-1.3,11.2 -2.1,10.7 -2.6,9.8"/></g>
<g transform="translate(5.60,70.73)"><rect x="-2.35" y="0" width="4.7" height="11.2" rx="2.35" ry="3.6"/></g>
<g transform="translate(14.45,70.73)"><circle cx="0.1" cy="10.5" r="1.1" fill="#222" stroke="none"/></g>
<g transform="translate(22.95,70.73)"><path d="M1.2,11.0 L1.2,0 L-2.5,7.7 L2.3,7.7 M-0.1,11.0 L2.3,11.0"/></g>
<g transform="translate(5.60,27.70)"><rect x="-2.35" y="0" width="4.7" height="11.2" rx="2.35" ry="3.6"/></g>
<g transform="translate(14.45,27.70)"><circle cx="0.1" cy="10.5" r="1.1" fill="#222" stroke="none"/></g>
<g transform="translate(22.95,27.70)"><path d="M2.3,0 L-2.0,0 L-2.0,4.9 C-1.1,4.1 -0.4,3.9 0.3,3.9 C1.6,3.9 2.55,5.3 2.55,7.5 C2.55,9.8 1.5,11.2 -0.1,11.2 C-1.2,11.2 -2.1,10.7 -2.6,9.7"/></g>
<g transform="translate(87.75,254.45)"><path d="M-2.0,3.0 C-2.0,1.0 -1.1,0 0.15,0 C1.5,0 2.4,1.2 2.4,2.8 C2.4,4.5 1.2,5.8 -2.5,11.2 L2.5,11.2 L2.5,10.2"/></g>
<g transform="translate(145.30,254.45)"><path d="M1.2,11.0 L1.2,0 L-2.5,7.7 L2.3,7.7 M-0.1,11.0 L2.3,11.0"/></g>
<g transform="translate(203.30,254.45)"><path d="M2.2,0.3 C0.2,-0.4 -2.4,2.0 -2.4,6.5 L-2.4,8.0"/><ellipse cx="0" cy="7.9" rx="2.4" ry="3.3"/></g>
<g transform="translate(261.20,254.45)"><ellipse cx="0" cy="2.5" rx="2.0" ry="2.5"/><ellipse cx="0" cy="8.15" rx="2.35" ry="3.05"/></g>
<g transform="translate(315.20,254.45)"><path d="M-2.8,1.7 L0,0.1 L0,11.2 M-3.0,11.2 L2.5,11.2"/></g>
<g transform="translate(323.60,254.45)"><rect x="-2.1" y="0" width="4.2" height="11.2" rx="2.1" ry="3.6"/></g>
</g>
</svg>
</body></html>
